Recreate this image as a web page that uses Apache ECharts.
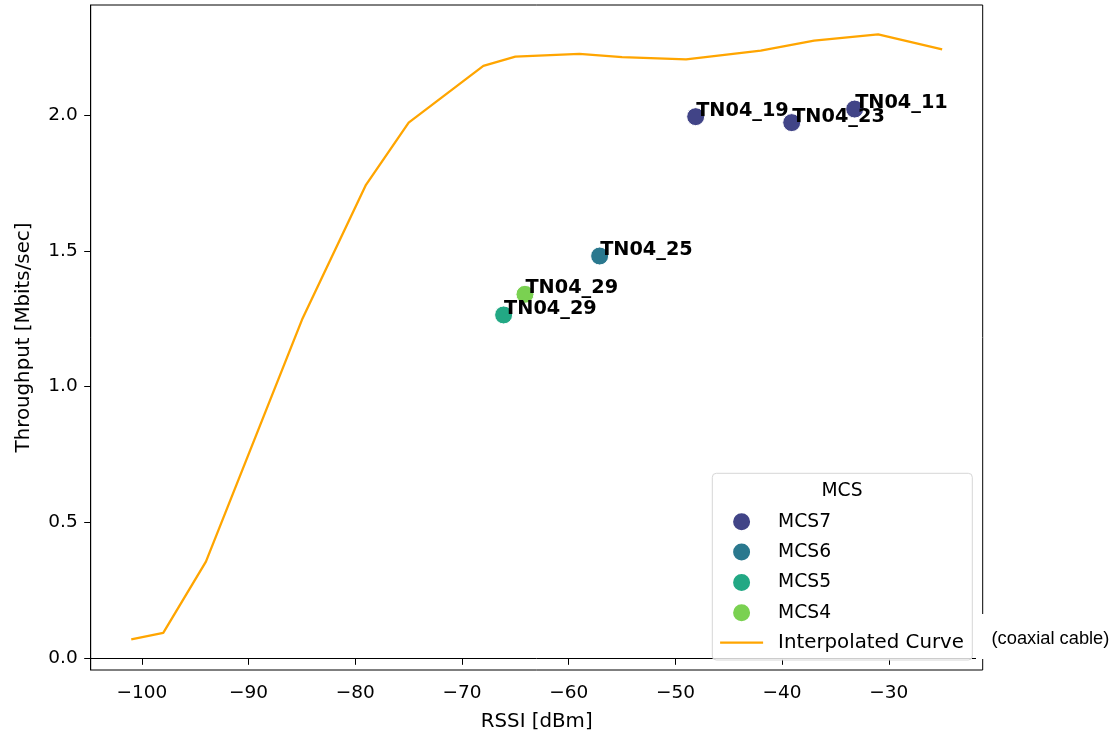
<!DOCTYPE html>
<html>
<head>
<meta charset="utf-8">
<script src="https://cdn.jsdelivr.net/npm/echarts@6/dist/echarts.min.js"></script>
<style>
html,body{margin:0;padding:0;background:#fff;}
#chart{width:1113px;height:731px;}
</style>
</head>
<body>
<div id="chart"></div>
<script>
// ---- data ----
const curveRssi = [-101, -98, -94, -85, -79, -75, -68, -65, -59, -55, -49, -42, -37, -31, -25];
const curveThroughput = [0.070, 0.094, 0.356, 1.246, 1.743, 1.972, 2.181, 2.215, 2.225, 2.213, 2.205, 2.237, 2.274, 2.297, 2.242];

const pointNames = ['TN04_19', 'TN04_23', 'TN04_11', 'TN04_25', 'TN04_29', 'TN04_29'];
const pointRssi = [-48.1, -39.1, -33.2, -57.1, -64.1, -66.1];
const pointThroughput = [1.994, 1.972, 2.022, 1.481, 1.340, 1.264];
const pointMcs = ['MCS7', 'MCS7', 'MCS7', 'MCS6', 'MCS4', 'MCS5'];

const mcsLevels = ['MCS7', 'MCS6', 'MCS5', 'MCS4'];
const mcsColors = ['#414487', '#2a788e', '#22a884', '#7ad151'];

const xTicks = [-100, -90, -80, -70, -60, -50, -40, -30];
const yTicks = [0, 0.5, 1.0, 1.5, 2.0];

const curveName = 'Interpolated Curve';
const sideNote = '(coaxial cable)';
const legendTitle = 'MCS';

// ---- build ----
const FONT = 'DejaVu Sans';
const chart = echarts.init(document.getElementById('chart'), null, {renderer: 'canvas'});

const scatterSeries = mcsLevels.map((lvl, i) => ({
  name: lvl,
  type: 'scatter',
  symbol: 'circle',
  symbolSize: 18,
  z: 3,
  itemStyle: {color: mcsColors[i], borderColor: '#fff', borderWidth: 1, opacity: 1},
  label: {
    show: true,
    position: [9, 9],
    align: 'left',
    verticalAlign: 'bottom',
    offset: [1, 4],
    color: '#000',
    fontFamily: FONT,
    fontWeight: 'bold',
    fontSize: 19.3,
    formatter: p => p.data.label
  },
  emphasis: {disabled: true},
  data: pointNames.map((n, k) => ({k, n}))
    .filter(o => pointMcs[o.k] === lvl)
    .map(o => ({value: [pointRssi[o.k], pointThroughput[o.k]], label: o.n}))
}));

const minus = v => (v < 0 ? '\u2212' : '') + Math.abs(v);

const option = {
  animation: false,
  backgroundColor: '#fff',
  grid: {left: 90.7, top: 5, right: 130.3, bottom: 61, containLabel: false, outerBoundsMode: 'none',
    show: true, borderColor: '#000', borderWidth: 1, backgroundColor: 'transparent'},
  xAxis: {
    type: 'value', min: -104.8, max: -21.2,
    name: 'RSSI [dBm]', nameLocation: 'middle', nameGap: 42,
    nameTextStyle: {fontFamily: FONT, fontSize: 19.8, color: '#000'},
    axisLine: {show: true, lineStyle: {color: '#000', width: 1}},
    axisTick: {show: true, length: 6.5, lineStyle: {color: '#000', width: 1}, customValues: xTicks},
    axisLabel: {margin: 14, fontFamily: FONT, fontSize: 18.5, color: '#000', customValues: xTicks, formatter: minus},
    splitLine: {show: false}
  },
  yAxis: {
    type: 'value', min: -0.043, max: 2.405,
    name: 'Throughput [Mbits/sec]', nameLocation: 'middle', nameGap: 57,
    nameTextStyle: {fontFamily: FONT, fontSize: 19.8, color: '#000'},
    axisLine: {show: true, lineStyle: {color: '#000', width: 1}},
    axisTick: {show: true, length: 6.5, lineStyle: {color: '#000', width: 1}, customValues: yTicks},
    axisLabel: {margin: 13, fontFamily: FONT, fontSize: 18.5, color: '#000', customValues: yTicks, formatter: v => v.toFixed(1)},
    splitLine: {show: false}
  },
  legend: {
    orient: 'vertical',
    left: 719, top: 511.2,
    padding: 0,
    itemWidth: 43, itemHeight: 19, itemGap: 9.35,
    formatter: name => name === curveName ? '{w|' + name + '}' : name,
    textStyle: {
      fontFamily: FONT, fontSize: 18.7, color: '#000', lineHeight: 19, padding: [0, 0, 0, 10],
      rich: {w: {fontFamily: FONT, fontSize: 19.8, color: '#000', lineHeight: 19}}
    },
    data: [
      ...mcsLevels.map(l => ({name: l, icon: 'circle'})),
      {name: curveName, itemStyle: {opacity: 0}, lineStyle: {color: '#ffa500', width: 2.2, opacity: 1}}
    ],
    selectedMode: false,
    z: 10
  },
  graphic: [
    {type: 'rect', z: 5, shape: {x: 712.3, y: 473.3, width: 260, height: 186.7, r: 4},
      style: {fill: 'rgba(255,255,255,0.8)', stroke: '#d6d6d6', lineWidth: 1}},
    {type: 'text', z: 6, x: 842, y: 491, style: {text: legendTitle, font: '18.7px "DejaVu Sans"', fill: '#000', textAlign: 'center', textVerticalAlign: 'middle'}},
    {type: 'rect', z: 20, shape: {x: 976, y: 614, width: 137, height: 45}, style: {fill: '#fff'}},
    {type: 'text', z: 21, x: 991.5, y: 639, style: {text: sideNote, font: '18.3px "Liberation Sans"', fill: '#000', textAlign: 'left', textVerticalAlign: 'middle'}}
  ],
  series: [
    ...scatterSeries,
    {
      name: curveName,
      type: 'line',
      symbol: 'none',
      z: 2,
      lineStyle: {color: '#ffa500', width: 2.3},
      itemStyle: {color: '#ffa500'},
      emphasis: {disabled: true},
      data: curveRssi.map((x, i) => [x, curveThroughput[i]])
    }
  ]
};
chart.setOption(option);
</script>
</body>
</html>
